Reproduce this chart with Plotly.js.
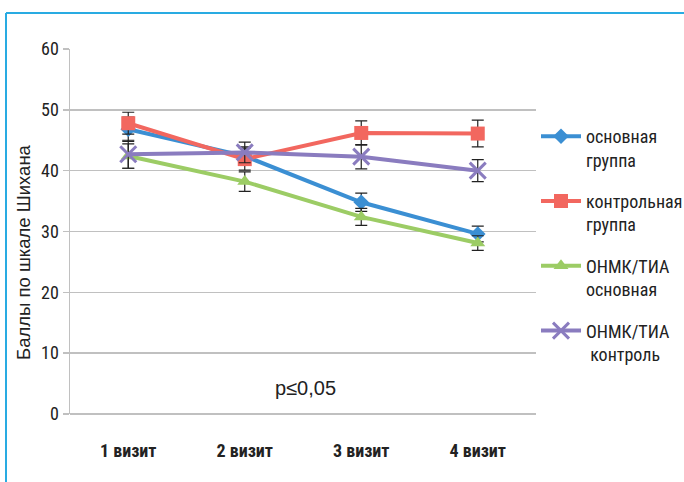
<!DOCTYPE html>
<html>
<head>
<meta charset="utf-8">
<script src="https://cdn.plot.ly/plotly-3.0.1.min.js"></script>
<style>
html,body{margin:0;padding:0;background:#fff;}
#chart{width:684px;height:482px;}
</style>
</head>
<body>
<div id="chart"></div>
<script>
const categories = ["1 визит", "2 визит", "3 визит", "4 визит"];
const seriesNames = ["основная<br>группа", "контрольная<br>группа", "ОНМК/ТИА<br>основная", "ОНМК/ТИА<br> контроль"];
const mainGroup = [46.8, 42.4, 34.8, 29.6];
const mainGroupErr = [2.0, 1.5, 1.5, 1.3];
const controlGroup = [47.8, 41.9, 46.2, 46.1];
const controlGroupErr = [1.8, 1.8, 2.0, 2.2];
const onmkMain = [42.4, 38.2, 32.4, 28.1];
const onmkMainErr = [2.0, 1.6, 1.4, 1.2];
const onmkControl = [42.7, 43.0, 42.3, 40.0];
const onmkControlErr = [2.3, 1.7, 2.0, 1.8];
const pNote = "p≤0,05";
const yTitle = "Баллы по шкале Шихана";

const NARROW = '"Liberation Sans Narrow", "Roboto Condensed", "Arial Narrow", Roboto, sans-serif';
const REG = '"Liberation Sans", Arial, sans-serif';
const colors = ["#3b8fd3", "#f2675f", "#9ccc65", "#8a7cbf"];
const symbols = ["diamond", "square", "triangle-up", "x-thin-open"];
const sizes = [12, 14, 13, 16];
const ys = [mainGroup, controlGroup, onmkMain, onmkControl];
const errs = [mainGroupErr, controlGroupErr, onmkMainErr, onmkControlErr];

const traces = ys.map((y, i) => ({
  type: "scatter",
  mode: "lines+markers",
  x: categories,
  y: y,
  name: seriesNames[i],
  legendgroup: "g" + i,
  line: {color: colors[i], width: 4},
  marker: i === 3
    ? {symbol: symbols[i], size: sizes[i], color: colors[i], line: {color: colors[i], width: 3}}
    : {symbol: symbols[i], size: sizes[i], color: colors[i]},
  error_y: {type: "data", array: errs[i], visible: true, color: "#222", thickness: 1.2, width: 6}
}));

const L = 70, R = 536, T = 49, B = 414;
const px = v => (v - L) / (R - L);
const py = v => (B - v) / (B - T);

const layout = {
  width: 684, height: 482,
  margin: {l: L, r: 684 - R, t: T, b: 482 - B, autoexpand: false},
  paper_bgcolor: "#fff", plot_bgcolor: "#fff",
  font: {family: NARROW, color: "#222"},
  showlegend: true,
  legend: {
    x: px(536), y: py(118), xanchor: "left", yanchor: "top",
    font: {family: NARROW, size: 18, color: "#222"},
    tracegroupgap: 15, valign: "top", itemwidth: 40,
    bgcolor: "rgba(0,0,0,0)"
  },
  xaxis: {
    type: "category", range: [-0.5, 3.5],
    showgrid: false, zeroline: false, showline: false,
    ticks: "", ticklabelstandoff: 24,
    tickfont: {family: NARROW, size: 18, color: "#222", weight: "bold"},
    fixedrange: true
  },
  yaxis: {
    range: [0, 60], dtick: 10,
    showgrid: true, gridcolor: "#c0c0c0", gridwidth: 1.5,
    zeroline: true, zerolinecolor: "#c0c0c0", zerolinewidth: 1.5,
    showline: true, linecolor: "#c0c0c0", linewidth: 1.5,
    ticks: "outside", ticklen: 6, tickcolor: "#c0c0c0", tickwidth: 1.5,
    tickfont: {family: NARROW, size: 18, color: "#222"},
    fixedrange: true
  },
  annotations: [
    {
      text: pNote, xref: "paper", yref: "paper",
      x: px(305), y: py(388), xanchor: "center", yanchor: "middle",
      showarrow: false, font: {family: REG, size: 20, color: "#222"}
    },
    {
      text: yTitle, xref: "paper", yref: "paper", textangle: -90,
      x: px(23), y: py(252), xanchor: "center", yanchor: "middle",
      showarrow: false, font: {family: REG, size: 18.5, color: "#222"}
    }
  ],
  shapes: [
    {type: "line", xref: "paper", yref: "paper", x0: px(6), x1: px(6), y0: py(13), y1: py(490),
     line: {color: "#29abe2", width: 2}},
    {type: "line", xref: "paper", yref: "paper", x0: px(6), x1: px(690), y0: py(13), y1: py(13),
     line: {color: "#29abe2", width: 2}}
  ]
};

Plotly.newPlot("chart", traces, layout, {displayModeBar: false, staticPlot: true});
</script>
</body>
</html>
